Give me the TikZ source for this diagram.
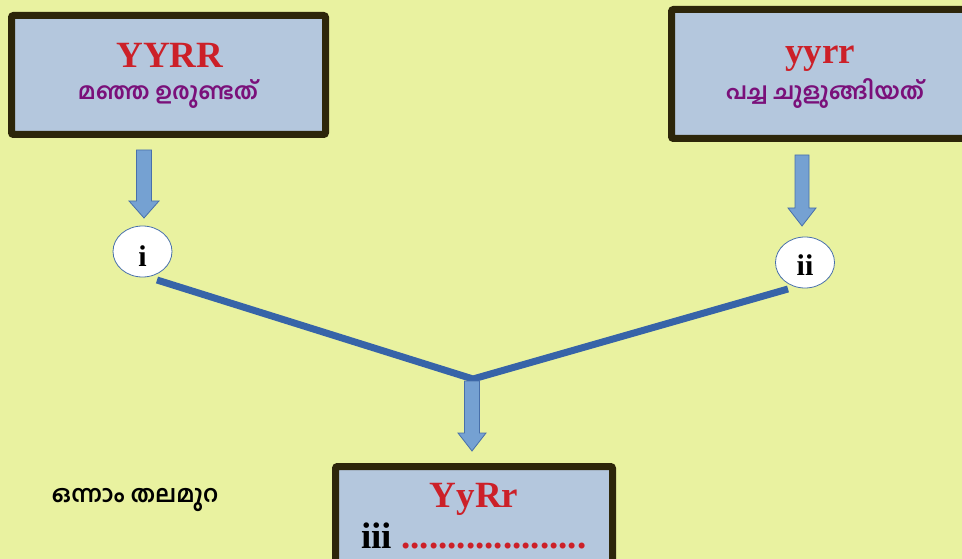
\documentclass[tikz,border=0pt]{standalone}
\usepackage{fontspec}
\setmainfont{Liberation Serif}
\newfontfamily\malfont[Script=Malayalam]{Hind Kochi}
\usetikzlibrary{shapes.geometric,calc}
\definecolor{bgc}{RGB}{233,242,160}
\definecolor{boxfill}{RGB}{180,199,221}
\definecolor{boxline}{RGB}{45,38,10}
\definecolor{redt}{RGB}{204,32,40}
\definecolor{purt}{RGB}{122,16,122}
\definecolor{arrfill}{RGB}{117,161,210}
\definecolor{arrline}{RGB}{72,112,170}
\definecolor{vcol}{RGB}{55,100,168}
\tikzset{
  genbox/.style={draw=boxline, fill=boxfill, line width=7pt, rounded corners=2pt, inner sep=0pt},
  bigtxt/.style={font=\fontsize{37}{40}\selectfont\bfseries, text=redt, inner sep=0pt},
  maltxt/.style={font=\malfont\fontsize{23}{26}\selectfont\bfseries, text=purt, inner sep=0pt},
  barr/.style={draw=arrline, fill=arrfill, line width=0.8pt, line join=miter},
  genell/.style={ellipse, draw=arrline, fill=white, line width=0.8pt, minimum width=59pt, minimum height=51pt, inner sep=0pt},
  elltxt/.style={font=\fontsize{30}{32}\selectfont\bfseries, inner sep=0pt},
  vline/.style={draw=vcol, line width=7pt}
}
\begin{document}
\begin{tikzpicture}[x=1pt,y=-1pt]
\useasboundingbox[fill=bgc] (0,0) rectangle (962,559);
% boxes
\node[genbox, minimum width=314pt, minimum height=119pt] (b1) at (168.5,75) {};
\node[genbox, minimum width=310pt, minimum height=129pt] (b2) at (826.5,74) {};
\node[genbox, minimum width=277pt, minimum height=134pt] (b3) at (474,533.5) {};
% box texts
\node[bigtxt, anchor=base] (t1) at (170,68) {YYRR};
\node[maltxt] (m1) at (168,94) {മഞ്ഞ ഉരുണ്ടത്};
\node[bigtxt, anchor=base] (t2) at (820,64) {yyrr};
\node[maltxt] (m2) at (825,94) {പച്ച ചുളുങ്ങിയത്};
\node[bigtxt, anchor=base] (t3) at (474,507) {YyRr};
\node[font=\fontsize{37}{40}\selectfont\bfseries, inner sep=0pt, anchor=base west] (t4) at (361,548) {iii \textcolor{redt}{....................}};
\node[font=\malfont\fontsize{23.5}{26}\selectfont\bfseries, inner sep=0pt] (gen) at (135,500) {ഒന്നാം തലമുറ};
% V lines
\coordinate (apex) at (473,379);
\coordinate (ls) at (157,280);
\coordinate (rs) at (788,289);
\draw[vline] (ls) -- (apex) -- (rs);
% ellipses
\node[genell] (i) at (142.5,251.5) {};
\node[genell] (ii) at (805,262.5) {};
\node[elltxt] (il) at ($(i.center)+(0,5)$) {i};
\node[elltxt] (iil) at ($(ii.center)+(0,3)$) {ii};
% block arrows
\coordinate (a1t) at (144,218);
\coordinate (a2t) at (802,226);
\coordinate (a3t) at (472,451);
\draw[barr] (a1t) -- ++(-15,-17) -- ++(7.5,0) -- ++(0,-51) -- ++(15,0) -- ++(0,51) -- ++(7.5,0) -- cycle;
\draw[barr] (a2t) -- ++(-14,-18) -- ++(7,0) -- ++(0,-53) -- ++(14,0) -- ++(0,53) -- ++(7,0) -- cycle;
\draw[barr] (a3t) -- ++(-14,-18) -- ++(6.5,0) -- ++(0,-52) -- ++(15,0) -- ++(0,52) -- ++(6.5,0) -- cycle;
\end{tikzpicture}
\end{document}
